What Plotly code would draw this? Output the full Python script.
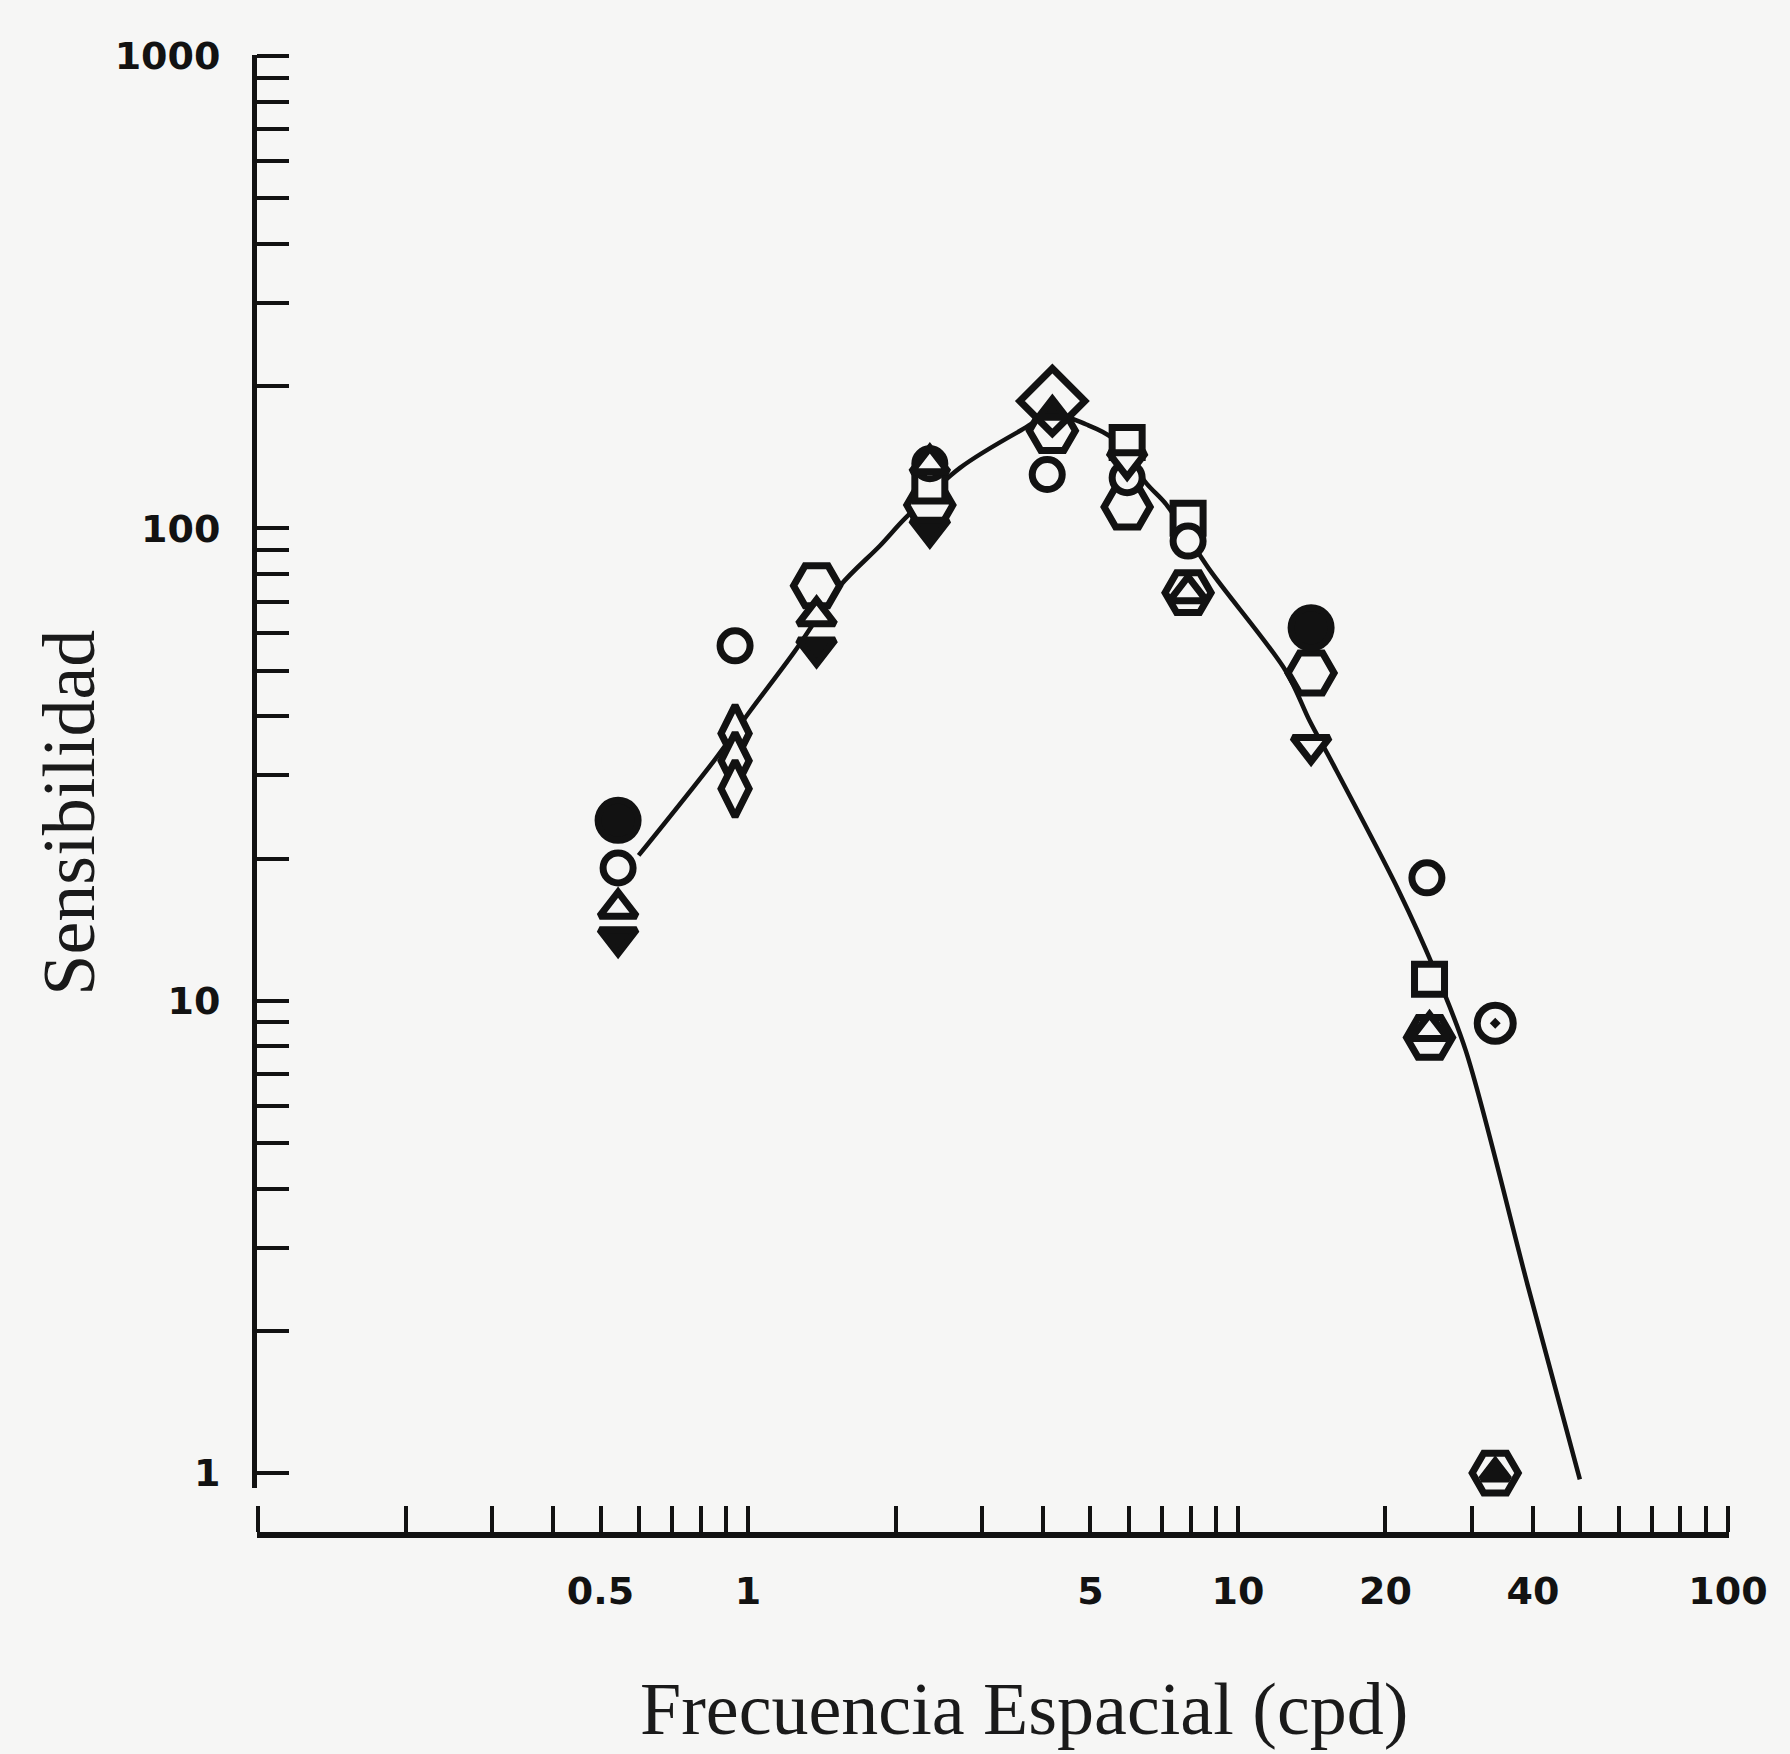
import math
import plotly.graph_objects as go

# Spatial contrast sensitivity: fitted curve plus per-observer measurements
curve_freq = [0.598, 0.852, 1.011, 1.239, 1.543, 1.861, 2.094, 2.708, 3.577, 4.178,
              4.905, 5.549, 6.516, 7.137, 8.748, 12.52, 14.01, 15.60, 21.28, 25.12,
              29.18, 39.17, 49.86]
curve_sens = [20.3, 32.2, 41.1, 54.5, 75.7, 92.0, 105.1, 134.3, 160.5, 174.4,
              165.9, 155.1, 124.2, 112.4, 81.8, 49.9, 39.1, 31.8, 17.1, 11.7,
              7.83, 2.46, 0.97]

hex_freq = [1.38, 2.35, 4.18, 5.94, 7.91, 14.1, 24.6, 33.5]
hex_sens = [75.6, 112, 161, 111, 73.1, 49.4, 8.36, 1.0]

diamond_freq = [4.18]
diamond_sens = [186]

tall_diamond_freq = [0.941, 0.941, 0.941]
tall_diamond_sens = [36.8, 32.2, 28.1]

square_freq = [2.35, 5.94, 7.91, 24.6]
square_sens = [123, 152, 105, 11.1]

circle_freq = [0.543, 0.941, 2.35, 4.08, 5.94, 7.91, 24.3]
circle_sens = [19.1, 56.4, 137, 130, 128, 94, 18.2]

tri_down_open_freq = [5.94, 14.1]
tri_down_open_sens = [139, 34.7]

tri_up_open_freq = [0.543, 1.38, 2.35, 7.91, 24.6]
tri_up_open_sens = [15.7, 65.3, 137, 73.1, 8.65]

tri_down_solid_freq = [0.543, 1.38, 2.35]
tri_down_solid_sens = [13.6, 55.8, 100]

dot_solid_freq = [0.543, 14.1]
dot_solid_sens = [24.1, 61.6]

tri_up_solid_freq = [4.18, 33.5]
tri_up_solid_sens = [177, 1.0]

ring_dot_freq = [33.5]
ring_dot_sens = [8.96]

x_major = [0.1, 0.5, 1, 5, 10, 20, 40, 100]
x_major_text = ["", "0.5", "1", "5", "10", "20", "40", "100"]
x_minor = [0.2, 0.3, 0.4, 0.6, 0.7, 0.8, 0.9, 2, 3, 4, 6, 7, 8, 9,
           30, 50, 60, 70, 80, 90]
y_major = [1, 10, 100, 1000]
y_major_text = ["1", "10", "100", "1000"]
y_minor = [m * d for d in (1, 10, 100) for m in range(2, 10)]

INK = "#121212"
PAPER = "#f6f6f5"

fig = go.Figure()

fig.add_trace(go.Scatter(
    x=curve_freq, y=curve_sens, mode="lines",
    line=dict(color=INK, width=4.5, shape="spline", smoothing=0.9),
    hoverinfo="skip", cliponaxis=False))


def add_markers(xs, ys, symbol, size, fill):
    fig.add_trace(go.Scatter(
        x=xs, y=ys, mode="markers", cliponaxis=False,
        marker=dict(symbol=symbol, size=size, color=fill,
                    line=dict(color=INK, width=7))))


add_markers(hex_freq, hex_sens, "hexagon2", 46, PAPER)
add_markers(diamond_freq, diamond_sens, "diamond", 50, PAPER)
add_markers(tall_diamond_freq, tall_diamond_sens, "diamond-tall", 40, PAPER)
add_markers(square_freq, square_sens, "square", 30, PAPER)
add_markers(circle_freq, circle_sens, "circle", 30, PAPER)
add_markers(tri_down_open_freq, tri_down_open_sens, "triangle-down", 32, PAPER)
add_markers(tri_up_open_freq, tri_up_open_sens, "triangle-up", 32, PAPER)
add_markers(tri_down_solid_freq, tri_down_solid_sens, "triangle-down", 32, INK)
add_markers(dot_solid_freq, dot_solid_sens, "circle", 40, INK)
add_markers(tri_up_solid_freq, tri_up_solid_sens, "triangle-up", 24, INK)
add_markers(ring_dot_freq, ring_dot_sens, "circle-dot", 36, PAPER)

tick_font = dict(family="DejaVu Sans", size=38, color=INK, weight="bold")

fig.update_layout(
    width=1790, height=1754,
    margin=dict(l=257, r=61, t=55, b=219),
    paper_bgcolor=PAPER, plot_bgcolor=PAPER,
    showlegend=False,
    xaxis=dict(
        type="log", range=[math.log10(0.0995), math.log10(100.5)], domain=[0, 1],
        anchor="free", position=0,
        showline=True, linewidth=6, linecolor=INK,
        showgrid=False, zeroline=False,
        ticks="inside", ticklen=26, tickwidth=4, tickcolor=INK,
        tickmode="array", tickvals=x_major, ticktext=x_major_text,
        tickfont=tick_font, ticklabelstandoff=20,
        minor=dict(ticks="inside", ticklen=26, tickwidth=4, tickcolor=INK,
                   tickmode="array", tickvals=x_minor, showgrid=False),
    ),
    yaxis=dict(
        type="log", range=[math.log10(0.93), math.log10(1005)], domain=[0.0318, 1],
        anchor="x",
        showline=True, linewidth=5, linecolor=INK,
        showgrid=False, zeroline=False,
        ticks="inside", ticklen=32, tickwidth=4, tickcolor=INK,
        tickmode="array", tickvals=y_major, ticktext=y_major_text,
        tickfont=tick_font, ticklabelstandoff=24,
        minor=dict(ticks="inside", ticklen=32, tickwidth=4, tickcolor=INK,
                   tickmode="array", tickvals=y_minor, showgrid=False),
    ),
    annotations=[
        dict(text="Frecuencia Espacial (cpd)", xref="paper", yref="paper",
             x=0.521, y=-0.1176, xanchor="center", yanchor="middle",
             showarrow=False,
             font=dict(family="Liberation Serif", size=74, color="#1a1a1a")),
        dict(text="Sensibilidad", xref="paper", yref="paper",
             x=-0.128, y=0.4878, xanchor="center", yanchor="middle",
             textangle=-90, showarrow=False,
             font=dict(family="Liberation Serif", size=74, color="#1a1a1a")),
    ],
)

fig.write_html("out.html")
